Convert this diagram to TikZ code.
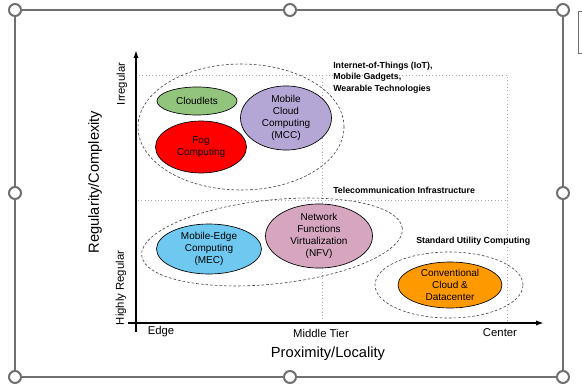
\documentclass[tikz,border=0pt]{standalone}
\usepackage{fontspec}
\setmainfont{Liberation Sans}
\usetikzlibrary{shapes.geometric,arrows.meta}
\definecolor{framegray}{RGB}{112,112,112}
\definecolor{cgreen}{RGB}{147,196,125}
\definecolor{cred}{RGB}{255,0,0}
\definecolor{cpurple}{RGB}{180,167,214}
\definecolor{cblue}{RGB}{111,200,240}
\definecolor{cpink}{RGB}{213,166,189}
\definecolor{corange}{RGB}{255,153,0}
\definecolor{dotgray}{RGB}{170,170,170}
\begin{document}
\begin{tikzpicture}[x=0.75pt,y=-0.75pt,
  blob/.style={ellipse,draw=black,line width=0.5pt,inner sep=0pt,align=center,font=\fontsize{7.5}{9}\selectfont},
  grp/.style={ellipse,draw=black!75,dash pattern=on 2pt off 1.5pt,line width=0.45pt,inner sep=0pt},
  dotline/.style={draw=dotgray,dotted,line width=0.5pt},
  lbl/.style={font=\bfseries\fontsize{6.6}{8.5}\selectfont,align=left,inner sep=0pt},
  tick/.style={font=\fontsize{8.5}{10}\selectfont,inner sep=0pt},
  big/.style={font=\fontsize{11}{13}\selectfont,inner sep=0pt},
  handle/.style={circle,draw=framegray,fill=white,line width=1.5pt,minimum size=9pt,inner sep=0pt},
  axis/.style={line width=1.5pt,-{Latex[length=6pt,width=4pt]}}]
\useasboundingbox (0,0) rectangle (582,385);

% frame with handles
\node[handle] (h1) at (15,10) {};
\node[handle] (h2) at (290,10) {};
\node[handle] (h3) at (563,10) {};
\node[handle] (h4) at (563,193) {};
\node[handle] (h5) at (563,377) {};
\node[handle] (h6) at (290,377) {};
\node[handle] (h7) at (15,377) {};
\node[handle] (h8) at (15,193) {};
\draw[framegray,line width=1pt] (h1)--(h2) (h2)--(h3) (h3)--(h4) (h4)--(h5) (h5)--(h6) (h6)--(h7) (h7)--(h8) (h8)--(h1);
\draw[framegray,line width=0.6pt] (600,11) -- (578,11) -- (578,53) -- (600,53);

% dotted guides
\coordinate (d1) at (139,75);
\coordinate (d2) at (507,75);
\coordinate (d3) at (507,323);
\coordinate (d4) at (322,75);
\coordinate (d5) at (322,323);
\coordinate (d6) at (138,200);
\coordinate (d7) at (507,200);
\draw[dotline] (d1) -- (d2) -- (d3);
\draw[dotline] (d4) -- (d5);
\draw[dotline] (d6) -- (d7);

% axes
\coordinate (yb) at (136,332);
\coordinate (yt) at (136,50);
\coordinate (xl) at (128,323);
\coordinate (xr) at (544,323);
\draw[axis] (yb) -- (yt);
\draw[axis] (xl) -- (xr);

% group ellipses
\node[grp,minimum width=154.5pt,minimum height=94.5pt] (g1) at (241,127) {};
\node[grp,minimum width=196.5pt,minimum height=63pt,rotate=6] (g2) at (272,242) {};
\node[grp,minimum width=111pt,minimum height=49.5pt] (g3) at (449,285) {};

% technology ellipses
\node[blob,fill=cgreen,minimum width=60pt,minimum height=21pt] (cl) at (197,101) {Cloudlets};
\node[blob,fill=cred,minimum width=68.25pt,minimum height=39pt] (fog) at (201,147) {Fog\\Computing};
\node[blob,fill=cpurple,minimum width=68.25pt,minimum height=44.25pt] (mcc) at (286,118) {Mobile\\Cloud\\Computing\\(MCC)};
\node[blob,fill=cblue,minimum width=78.75pt,minimum height=37.5pt] (mec) at (209,249) {Mobile-Edge\\Computing\\(MEC)};
\node[blob,fill=cpink,minimum width=80.25pt,minimum height=43.5pt] (nfv) at (319,236) {Network\\Functions\\Virtualization\\(NFV)};
\node[blob,fill=corange,minimum width=78pt,minimum height=34.5pt] (cc) at (450,285) {Conventional\\Cloud \&\\Datacenter};

% region labels
\node[lbl,anchor=north west] (iot) at (333,62) {Internet-of-Things (IoT),\\Mobile Gadgets,\\Wearable Technologies};
\node[lbl,anchor=west] (tel) at (333,190) {Telecommunication Infrastructure};
\node[lbl,anchor=west] (std) at (416,241) {Standard Utility Computing};

% axis labels
\node[tick] (edge) at (161,332) {Edge};
\node[tick] (mid) at (321,333) {Middle Tier};
\node[tick] (cen) at (500,333) {Center};
\node[big] (prox) at (328,354) {Proximity/Locality};
\node[tick,rotate=90] (irr) at (122,84) {Irregular};
\node[tick,rotate=90] (hr) at (121,288) {Highly Regular};
\node[big,rotate=90] (reg) at (95,182) {Regularity/Complexity};
\end{tikzpicture}
\end{document}
